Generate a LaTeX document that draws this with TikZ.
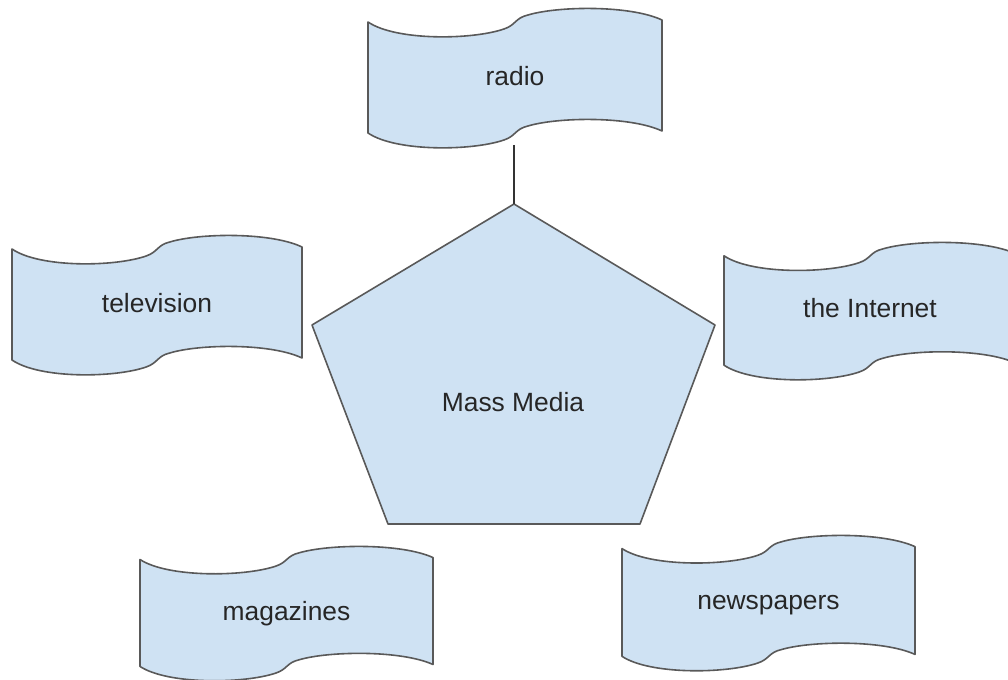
\documentclass[tikz,border=0pt]{standalone}
\usepackage{fontspec}
\setmainfont{Liberation Sans}
\definecolor{shapefill}{HTML}{CFE2F3}
\definecolor{shapeedge}{HTML}{595959}
\tikzset{
  shapebody/.style={draw=shapeedge, fill=shapefill, line width=1.2pt, line join=round},
  labeltext/.style={font=\fontsize{19.8pt}{23pt}\selectfont, text=black!85, inner sep=0pt, text height=1.45ex, text depth=0.3ex},
  connline/.style={draw=black!80, line width=1.1pt}
}
% wave flag outline in a 294 x 137 box (pixel units, y down)
\newcommand\flagpath{(0,14) .. controls (28,33) and (104,32) .. (136,21)
  .. controls (148,17) and (147,10) .. (160,7)
  .. controls (190,-2) and (262,-3) .. (294,12) -- (294,123)
  .. controls (262,108) and (190,109) .. (160,118)
  .. controls (147,121) and (148,128) .. (136,132)
  .. controls (104,143) and (28,144) .. (0,125) -- cycle}
% #1 name, #2 x0, #3 y0, #4 width, #5 height, #6 text
\newcommand\waveflag[6]{%
  \begin{scope}[shift={(#2,#3)}, xscale=#4/294, yscale=#5/137]
    \path[shapebody] \flagpath;
    \node[labeltext] (#1) at (147,73) {#6};
  \end{scope}}
\begin{document}
\begin{tikzpicture}[x=0.75pt, y=-0.75pt]
  \useasboundingbox (0,0) rectangle (1008,680);
  \clip (0,0) rectangle (1008,680);

  % central pentagon
  \coordinate (ptop) at (514,204);
  \coordinate (pleft) at (312,325);
  \coordinate (pright) at (715,325);
  \coordinate (pbl) at (388,524);
  \coordinate (pbr) at (640,524);
  \path[shapebody] (ptop) -- (pright) -- (pbr) -- (pbl) -- (pleft) -- cycle;
  \node[labeltext] (mass) at (513,407) {Mass Media};

  % flags
  \waveflag{radio}{368}{8}{294}{137}{radio}
  \waveflag{tv}{12}{235}{290}{137}{television}
  \waveflag{net}{724}{242}{292}{135}{the Internet}
  \waveflag{mag}{140}{546}{293}{132}{magazines}
  \waveflag{news}{622}{535}{293}{133}{newspapers}

  % connector
  \coordinate (radiobottom) at (514,145);
  \draw[connline] (radiobottom) -- (ptop);
\end{tikzpicture}
\end{document}
